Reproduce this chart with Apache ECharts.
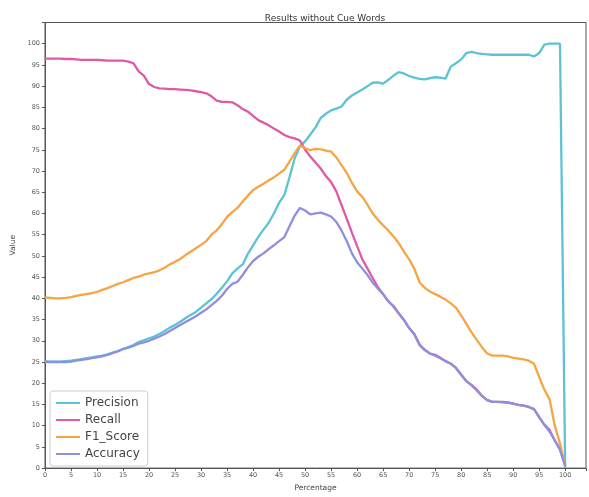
<!DOCTYPE html>
<html>
<head>
<meta charset="utf-8">
<script src="https://cdn.jsdelivr.net/npm/echarts@6/dist/echarts.min.js"></script>
<style>html,body{margin:0;padding:0;background:#fff}#c{width:589px;height:497px}</style>
</head>
<body>
<div id="c"></div>
<script>
var percentages = [];
for (var i = 0; i <= 100; i++) percentages.push(i);

var precision = [25.2,25.1,25.1,25.1,25.2,25.3,25.5,25.7,25.9,26.1,
26.3,26.5,26.8,27.2,27.6,28.1,28.5,29.0,29.7,30.1,
30.6,31.0,31.6,32.3,33.1,33.7,34.5,35.3,36.1,36.8,
37.8,38.8,39.8,41.1,42.5,44.0,45.9,47.0,48.0,50.5,
52.5,54.5,56.2,57.8,60.0,62.5,64.3,68.5,73.0,75.8,
77.0,78.6,80.3,82.5,83.5,84.3,84.7,85.2,86.8,87.8,
88.5,89.2,90.0,90.8,90.9,90.6,91.5,92.5,93.3,93.0,
92.4,92.0,91.7,91.6,91.9,92.1,92.0,91.8,94.6,95.4,
96.3,97.8,98.1,97.8,97.6,97.5,97.4,97.4,97.4,97.4,
97.4,97.4,97.4,97.4,97.0,97.8,99.8,100,100,100,0];

var recall = [96.5,96.5,96.5,96.5,96.4,96.4,96.3,96.2,96.2,96.2,
96.2,96.1,96.0,96.0,96.0,96.0,95.8,95.4,93.5,92.5,
90.5,89.8,89.5,89.4,89.3,89.3,89.2,89.1,89.0,88.8,
88.6,88.3,87.6,86.6,86.3,86.3,86.2,85.5,84.6,84.0,
83.0,82.0,81.4,80.8,80.0,79.3,78.5,78.0,77.7,77.2,
75.0,73.4,72.0,70.6,68.8,67.4,65.2,62.0,58.8,55.5,
52.3,49.2,47.0,44.8,42.6,41.0,39.3,38.2,36.5,34.9,
33.0,31.6,29.0,27.8,27.0,26.7,26.0,25.2,24.6,23.6,
22.0,20.5,19.6,18.5,17.0,16.0,15.6,15.6,15.6,15.5,
15.2,14.9,14.7,14.4,13.9,12.0,10.2,9.0,6.5,4.5,0.5];

var f1Score = [40.2,40.1,40.0,40.0,40.1,40.3,40.6,40.8,41.0,41.2,
41.5,42.0,42.4,42.9,43.4,43.8,44.3,44.8,45.1,45.6,
45.9,46.2,46.6,47.2,48.0,48.6,49.3,50.2,51.0,51.8,
52.6,53.5,55.0,56.0,57.5,59.2,60.3,61.3,62.8,64.2,
65.5,66.3,67.0,67.8,68.5,69.4,70.3,72.2,74.2,76.0,
75.4,74.9,75.2,75.1,74.8,74.6,73.2,71.4,69.6,67.2,
65.2,63.9,62.0,60.0,58.5,57.2,56.0,54.6,53.0,51.0,
49.2,47.0,43.8,42.5,41.6,41.0,40.4,39.7,38.8,37.8,
36.0,34.0,32.0,30.2,28.5,27.0,26.5,26.5,26.5,26.3,
26.0,25.8,25.6,25.3,24.6,21.5,18.5,16.2,10.0,5.8,0.5];

var accuracy = [25.0,25.0,25.0,25.0,25.0,25.1,25.3,25.5,25.7,25.9,
26.1,26.3,26.7,27.1,27.5,28.0,28.4,28.8,29.3,29.6,
30.0,30.5,31.0,31.6,32.3,33.0,33.7,34.4,35.1,35.8,
36.6,37.4,38.4,39.4,40.6,42.2,43.4,43.9,45.5,47.3,
48.8,49.8,50.6,51.6,52.5,53.5,54.4,57.0,59.5,61.3,
60.7,59.8,60.0,60.2,59.8,59.3,58.0,56.0,53.5,50.6,
48.5,47.0,45.5,43.7,42.3,41.0,39.3,38.0,36.4,34.9,
33.0,31.5,29.2,27.9,27.0,26.5,25.9,25.2,24.6,23.6,
22.0,20.5,19.5,18.3,17.0,16.0,15.6,15.6,15.5,15.4,
15.2,14.9,14.7,14.4,13.9,12.0,10.2,8.6,6.5,4.3,0.5];

var seriesNames = ['Precision', 'Recall', 'F1_Score', 'Accuracy'];
var seriesColors = ['#5cc3d6', '#de5aa6', '#f6a545', '#8e8fdd'];
var seriesValues = [precision, recall, f1Score, accuracy];

function pairs(vals) {
  return percentages.map(function (x, i) { return [x, vals[i]]; });
}

var font = 'DejaVu Sans';
var chart = echarts.init(document.getElementById('c'), null, {renderer: 'canvas'});
chart.setOption({
  animation: false,
  backgroundColor: '#fff',
  color: seriesColors,
  title: {
    text: 'Results without Cue Words',
    left: 320, top: 9, textAlign: 'center',
    textStyle: {fontFamily: font, fontSize: 9, fontWeight: 'normal', color: '#333'}
  },
  grid: {
    left: 45, right: -2, top: 22.5, bottom: 24.3,
    show: true, borderColor: '#555', borderWidth: 1
  },
  legend: {
    orient: 'vertical', left: 50, top: 391,
    icon: 'rect', itemWidth: 24, itemHeight: 2, itemGap: 5,
    padding: [6, 8, 6, 6],
    borderColor: '#d0d0d0', borderWidth: 1, borderRadius: 3,
    textStyle: {fontFamily: font, fontSize: 12, color: '#444'},
    data: seriesNames
  },
  xAxis: {
    type: 'value', min: 0, max: 104, interval: 5,
    name: 'Percentage', nameLocation: 'middle', nameGap: 13,
    nameTextStyle: {fontFamily: font, fontSize: 7.5, color: '#444'},
    axisLine: {show: true, lineStyle: {color: '#555'}},
    axisTick: {show: true, length: 3, lineStyle: {color: '#555'}},
    axisLabel: {fontFamily: font, fontSize: 6.5, color: '#555', margin: 4,
      formatter: function (v) { return v > 100 ? '' : String(v); }},
    splitLine: {show: false}
  },
  yAxis: {
    type: 'value', min: 0, max: 105, interval: 5,
    name: 'Value', nameLocation: 'middle', nameGap: 28, nameRotate: 90,
    nameTextStyle: {fontFamily: font, fontSize: 7.5, color: '#444'},
    axisLine: {show: true, lineStyle: {color: '#555'}},
    axisTick: {show: true, length: 3, lineStyle: {color: '#555'}},
    axisLabel: {fontFamily: font, fontSize: 6.5, color: '#555', margin: 5,
      formatter: function (v) { return v > 100 ? '' : String(v); }},
    splitLine: {show: false}
  },
  series: seriesNames.map(function (n, k) {
    return {
      name: n, type: 'line', data: pairs(seriesValues[k]),
      showSymbol: false, symbol: 'none',
      lineStyle: {width: 2.3, color: seriesColors[k]},
      itemStyle: {color: seriesColors[k]}
    };
  })
});
</script>
</body>
</html>
